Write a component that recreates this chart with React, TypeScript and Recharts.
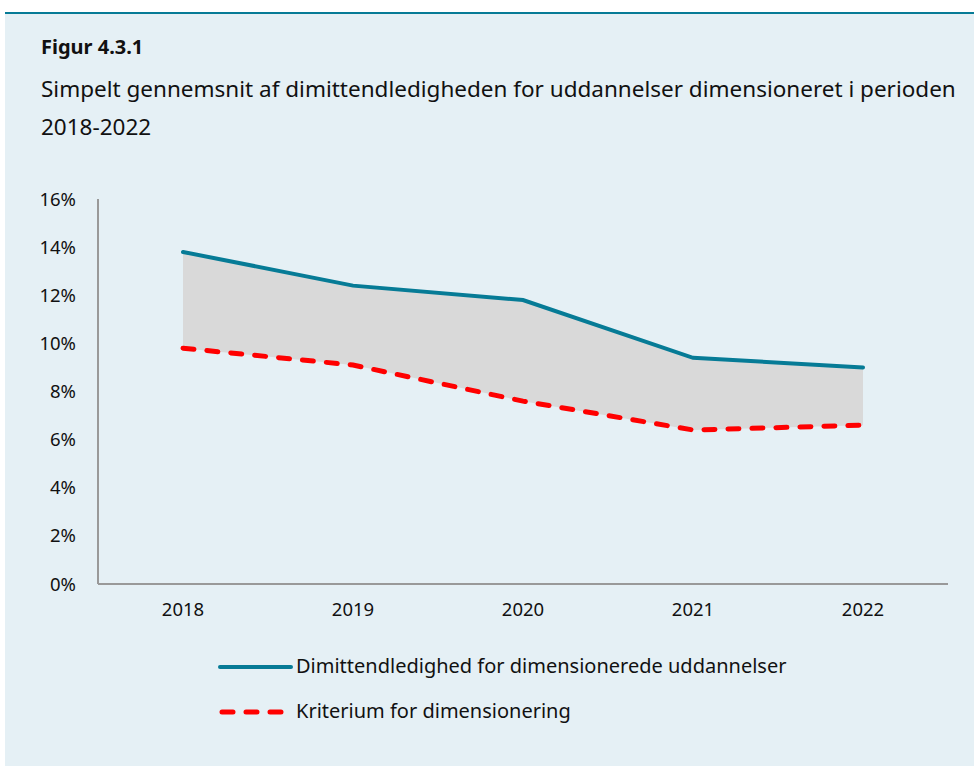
import React from "react";
import { ComposedChart, Line, Area, XAxis, YAxis } from "recharts";

const years = ["2018", "2019", "2020", "2021", "2022"];
const ledighed = [13.8, 12.4, 11.8, 9.4, 9.0];
const kriterium = [9.8, 9.1, 7.6, 6.4, 6.6];
const yTicks = [0, 2, 4, 6, 8, 10, 12, 14, 16];

const data = years.map((y, i) => ({
  year: y,
  ledighed: ledighed[i],
  kriterium: kriterium[i],
  range: [kriterium[i], ledighed[i]],
}));

const TEAL = "#067b96";
const RED = "#ff0000";
const FONT = "'Noto Sans', 'Open Sans', sans-serif";

export default function App() {
  return (
    <div
      style={{
        position: "absolute",
        left: 0,
        top: 0,
        width: 974,
        height: 766,
        background: "#ffffff",
        fontFamily: FONT,
        overflow: "hidden",
      }}
    >
      <div
        style={{
          position: "absolute",
          left: 5,
          top: 12,
          width: 969,
          height: 754,
          background: "#e5f0f5",
          borderTop: `2px solid ${TEAL}`,
        }}
      />
      <div
        style={{
          position: "absolute",
          left: 41,
          top: 33,
          fontSize: 20,
          lineHeight: "28px",
          fontWeight: 700,
          color: "#111",
        }}
      >
        Figur 4.3.1
      </div>
      <div
        style={{
          position: "absolute",
          left: 41,
          top: 70,
          width: 933,
          fontSize: 22.5,
          lineHeight: "38px",
          color: "#111",
          whiteSpace: "nowrap",
        }}
      >
        Simpelt gennemsnit af dimittendledigheden for uddannelser dimensioneret i perioden
        <br />
        2018-2022
      </div>
      <div style={{ position: "absolute", left: 0, top: 0 }}>
        <ComposedChart
          width={974}
          height={766}
          data={data}
          margin={{ top: 199, right: 26, bottom: 152, left: 38 }}
        >
          <XAxis
            dataKey="year"
            padding={{ left: 85, right: 85 }}
            height={30}
            tickLine={false}
            tickSize={0}
            tickMargin={19}
            axisLine={{ stroke: "#999999", strokeWidth: 2 }}
            tick={{ fill: "#111", fontSize: 18.5, fontFamily: FONT }}
          />
          <YAxis
            width={60}
            domain={[0, 16]}
            ticks={yTicks}
            interval={0}
            tickFormatter={(v: number) => `${v}%`}
            tickLine={false}
            tickSize={0}
            tickMargin={22}
            axisLine={{ stroke: "#999999", strokeWidth: 2 }}
            tick={{ fill: "#111", fontSize: 18.5, fontFamily: FONT }}
          />
          <Area
            dataKey="range"
            type="linear"
            fill="#d9d9d9"
            fillOpacity={1}
            stroke="none"
            isAnimationActive={false}
          />
          <Line
            dataKey="ledighed"
            type="linear"
            stroke={TEAL}
            strokeWidth={4}
            strokeLinecap="round"
            dot={false}
            isAnimationActive={false}
          />
          <Line
            dataKey="kriterium"
            type="linear"
            stroke={RED}
            strokeWidth={5}
            strokeDasharray="11 13"
            strokeLinecap="round"
            dot={false}
            isAnimationActive={false}
          />
        </ComposedChart>
      </div>
      <svg style={{ position: "absolute", left: 0, top: 0 }} width={974} height={766}>
        <line x1={220} y1={667} x2={291} y2={667} stroke={TEAL} strokeWidth={4} strokeLinecap="round" />
        <line x1={222} y1={712} x2={289} y2={712} stroke={RED} strokeWidth={5} strokeDasharray="11 13" strokeLinecap="round" />
      </svg>
      <div style={{ position: "absolute", left: 296, top: 652, fontSize: 20, lineHeight: "28px", color: "#111" }}>
        Dimittendledighed for dimensionerede uddannelser
      </div>
      <div style={{ position: "absolute", left: 296, top: 697, fontSize: 20, lineHeight: "28px", color: "#111" }}>
        Kriterium for dimensionering
      </div>
    </div>
  );
}
